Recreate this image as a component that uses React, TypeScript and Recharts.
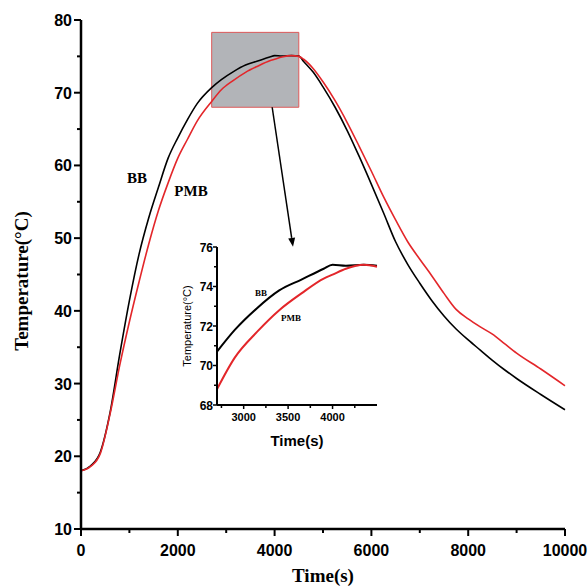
import {
  LineChart,
  Line,
  XAxis,
  YAxis,
  ReferenceArea,
  ReferenceLine,
  ReferenceDot,
} from 'recharts';

// time (s) and temperature (°C)
const times = [
  0, 200, 400, 600, 800, 1000, 1200, 1400, 1600, 1800, 2000, 2200, 2400, 2700,
  2900, 3150, 3400, 3650, 3900, 4000, 4150, 4350, 4500, 4600, 4800, 5000, 5250,
  5500, 5750, 6000, 6250, 6500, 6750, 7000, 7250, 7500, 7750, 8000, 8250, 8500,
  8750, 9000, 9500, 10000,
];
const bbTemp = [
  18.0, 18.7, 20.6, 26.0, 34.0, 41.4, 47.8, 52.8, 57.0, 61.0, 63.8, 66.3, 68.5, 70.7,
  71.8, 72.9, 73.8, 74.35, 74.9, 75.1, 75.05, 75.1, 75.05, 74.3, 72.8, 70.8, 68.0,
  64.8, 61.2, 57.4, 53.5, 49.5, 46.4, 43.8, 41.4, 39.3, 37.5, 36.0, 34.6, 33.2,
  31.9, 30.7, 28.5, 26.4,
];
const pmbTemp = [
  18.0, 18.6, 20.4, 25.8, 32.5, 38.5, 44.0, 49.2, 53.8, 57.6, 61.0, 63.6, 66.1, 68.8,
  70.4, 71.7, 72.8, 73.65, 74.4, 74.6, 74.9, 75.1, 75.0, 74.6, 73.3, 71.5, 68.9,
  65.9, 62.6, 59.2, 55.7, 52.5, 49.5, 47.1, 44.8, 42.4, 40.2, 38.9, 37.8, 36.8,
  35.5, 34.2, 32.0, 29.7,
];

const mainXTicks = [0, 1000, 2000, 3000, 4000, 5000, 6000, 7000, 8000, 9000, 10000];
const mainYTicks = [10, 15, 20, 25, 30, 35, 40, 45, 50, 55, 60, 65, 70, 75, 80];
const insetXTicks = [2750, 3000, 3250, 3500, 3750, 4000, 4250];
const insetYTicks = [68, 69, 70, 71, 72, 73, 74, 75, 76];

const data = times.map((t, i) => ({ t, bb: bbTemp[i], pmb: pmbTemp[i] }));
const insetData = data.filter((d) => d.t >= 2700 && d.t <= 4500);

const SANS = '"Liberation Sans", Arial, sans-serif';
const SERIF = '"Liberation Serif", "Times New Roman", serif';
const RED = '#e3262a';

const MainXTick = ({ x, y, payload }: any) => {
  const major = payload.value % 2000 === 0;
  return (
    <g>
      <line x1={x} x2={x} y1={y} y2={y + (major ? 7 : 4)} stroke="#000" strokeWidth={2} />
      {major && (
        <text x={x} y={y + 27} textAnchor="middle" fontFamily={SANS} fontWeight="bold" fontSize={16}>
          {payload.value}
        </text>
      )}
    </g>
  );
};

const MainYTick = ({ x, y, payload }: any) => {
  const major = payload.value % 10 === 0;
  return (
    <g>
      <line x1={x} x2={x - (major ? 7 : 4)} y1={y} y2={y} stroke="#000" strokeWidth={2} />
      {major && (
        <text x={x - 9} y={y + 6} textAnchor="end" fontFamily={SANS} fontWeight="bold" fontSize={16}>
          {payload.value}
        </text>
      )}
    </g>
  );
};

const InsetXTick = ({ x, y, payload }: any) => {
  const major = payload.value % 500 === 0;
  return (
    <g>
      <line x1={x} x2={x} y1={y} y2={y + (major ? 4 : 3)} stroke="#000" strokeWidth={1.5} />
      {major && (
        <text x={x} y={y + 16} textAnchor="middle" fontFamily={SANS} fontWeight="bold" fontSize={11}>
          {payload.value}
        </text>
      )}
    </g>
  );
};

const InsetYTick = ({ x, y, payload }: any) => {
  const major = payload.value % 2 === 0;
  return (
    <g>
      <line x1={x} x2={x - (major ? 4 : 3)} y1={y} y2={y} stroke="#000" strokeWidth={1.5} />
      {major && (
        <text x={x - 4} y={y + 4.5} textAnchor="end" fontFamily={SANS} fontWeight="bold" fontSize={12}>
          {payload.value}
        </text>
      )}
    </g>
  );
};

const Arrow = (p: any) => {
  const { x1, y1, x2, y2 } = p;
  const a = Math.atan2(y2 - y1, x2 - x1);
  const len = 9;
  const w = 3.5;
  const bx = x2 - len * Math.cos(a);
  const by = y2 - len * Math.sin(a);
  const pts = [
    `${x2},${y2}`,
    `${bx + w * Math.sin(a)},${by - w * Math.cos(a)}`,
    `${bx - w * Math.sin(a)},${by + w * Math.cos(a)}`,
  ].join(' ');
  return (
    <g>
      <line x1={x1} y1={y1} x2={bx} y2={by} stroke="#000" strokeWidth={1.5} />
      <polygon points={pts} fill="#000" />
    </g>
  );
};

export default function App() {
  return (
    <div style={{ position: 'absolute', left: 0, top: 0, width: 588, height: 587, background: '#fff' }}>
      <LineChart width={588} height={587} data={data} margin={{ top: 20, right: 23, bottom: 0, left: 0 }}>
        <ReferenceArea
          x1={2700}
          x2={4500}
          y1={68}
          y2={78.3}
          fill="#b2b4b8"
          fillOpacity={1}
          stroke="#dd5a5a"
          strokeWidth={1}
        />
        <XAxis
          dataKey="t"
          type="number"
          domain={[0, 10000]}
          ticks={mainXTicks}
          interval={0}
          height={58}
          tickSize={0}
          tickMargin={0}
          tickLine={false}
          tick={<MainXTick />}
          axisLine={{ stroke: '#000', strokeWidth: 2.5 }}
          label={{
            content: (props: any) => {
              const vb = props.viewBox;
              return (
                <text x={vb.x + vb.width / 2} y={vb.y + 53} textAnchor="middle" fontFamily={SERIF} fontWeight="bold" fontSize={19}>
                  Time(s)
                </text>
              );
            },
          }}
        />
        <XAxis
          xAxisId="top"
          orientation="top"
          type="number"
          domain={[0, 10000]}
          height={0}
          tick={false}
          tickLine={false}
          axisLine={{ stroke: '#000', strokeWidth: 2.5 }}
        />
        <YAxis
          type="number"
          domain={[10, 80]}
          ticks={mainYTicks}
          interval={0}
          width={81}
          tickSize={0}
          tickMargin={0}
          tickLine={false}
          tick={<MainYTick />}
          axisLine={{ stroke: '#000', strokeWidth: 2.5 }}
          label={{
            content: () => (
              <text
                x={21}
                y={281}
                transform="rotate(-90 21 281)"
                textAnchor="middle"
                dominantBaseline="central"
                fontFamily={SERIF}
                fontWeight="bold"
                fontSize={19}
              >
                Temperature(°C)
              </text>
            ),
          }}
        />
        <YAxis
          yAxisId="right"
          orientation="right"
          type="number"
          domain={[10, 80]}
          width={0}
          tick={false}
          tickLine={false}
          axisLine={{ stroke: '#000', strokeWidth: 2.5 }}
        />
        <Line type="monotone" dataKey="bb" stroke="#000" strokeWidth={1.6} dot={false} isAnimationActive={false} />
        <Line type="monotone" dataKey="pmb" stroke={RED} strokeWidth={1.6} dot={false} isAnimationActive={false} />
        <ReferenceLine
          segment={[
            { x: 3950, y: 68 },
            { x: 4380, y: 48.8 },
          ]}
          shape={<Arrow />}
        />
        <ReferenceDot
          x={1157}
          y={58.3}
          r={0}
          label={{ value: 'BB', position: 'center', fontFamily: SERIF, fontWeight: 'bold', fontSize: 15, fill: '#000' }}
        />
        <ReferenceDot
          x={2273}
          y={56.5}
          r={0}
          label={{ value: 'PMB', position: 'center', fontFamily: SERIF, fontWeight: 'bold', fontSize: 15, fill: '#000' }}
        />
      </LineChart>

      <div style={{ position: 'absolute', left: 160, top: 240 }}>
        <LineChart width={230} height={215} data={insetData} margin={{ top: 7, right: 13, bottom: 0, left: 0 }}>
          <XAxis
            dataKey="t"
            type="number"
            domain={[2700, 4500]}
            ticks={insetXTicks}
            interval={0}
            height={50}
            tickSize={0}
            tickMargin={0}
            tickLine={false}
            tick={<InsetXTick />}
            axisLine={{ stroke: '#000', strokeWidth: 2 }}
            label={{
              content: (props: any) => {
                const vb = props.viewBox;
                return (
                  <text x={vb.x + vb.width / 2} y={vb.y + 41} textAnchor="middle" fontFamily={SANS} fontWeight="bold" fontSize={15}>
                    Time(s)
                  </text>
                );
              },
            }}
          />
          <XAxis
            xAxisId="top"
            orientation="top"
            type="number"
            domain={[2700, 4500]}
            height={0}
            tick={false}
            tickLine={false}
            axisLine={{ stroke: '#000', strokeWidth: 2 }}
          />
          <YAxis
            type="number"
            domain={[68, 76]}
            ticks={insetYTicks}
            interval={0}
            width={57}
            tickSize={0}
            tickMargin={0}
            tickLine={false}
            tick={<InsetYTick />}
            axisLine={{ stroke: '#000', strokeWidth: 2 }}
            label={{
              content: (props: any) => {
                const vb = props.viewBox;
                const cx = vb.x + 27;
                const cy = vb.y + vb.height / 2;
                return (
                  <text
                    x={cx}
                    y={cy}
                    transform={`rotate(-90 ${cx} ${cy})`}
                    textAnchor="middle"
                    dominantBaseline="central"
                    fontFamily={SANS}
                    fontSize={11}
                  >
                    Temperature(°C)
                  </text>
                );
              },
            }}
          />
          <YAxis
            yAxisId="right"
            orientation="right"
            type="number"
            domain={[68, 76]}
            width={0}
            tick={false}
            tickLine={false}
            axisLine={{ stroke: '#000', strokeWidth: 2 }}
          />
          <Line type="monotone" dataKey="bb" stroke="#000" strokeWidth={2} dot={false} isAnimationActive={false} />
          <Line type="monotone" dataKey="pmb" stroke={RED} strokeWidth={2} dot={false} isAnimationActive={false} />
          <ReferenceDot
            x={3195}
            y={73.7}
            r={0}
            label={{ value: 'BB', position: 'center', fontFamily: SERIF, fontWeight: 'bold', fontSize: 9, fill: '#000' }}
          />
          <ReferenceDot
            x={3532}
            y={72.4}
            r={0}
            label={{ value: 'PMB', position: 'center', fontFamily: SERIF, fontWeight: 'bold', fontSize: 9, fill: '#000' }}
          />
        </LineChart>
      </div>
    </div>
  );
}
